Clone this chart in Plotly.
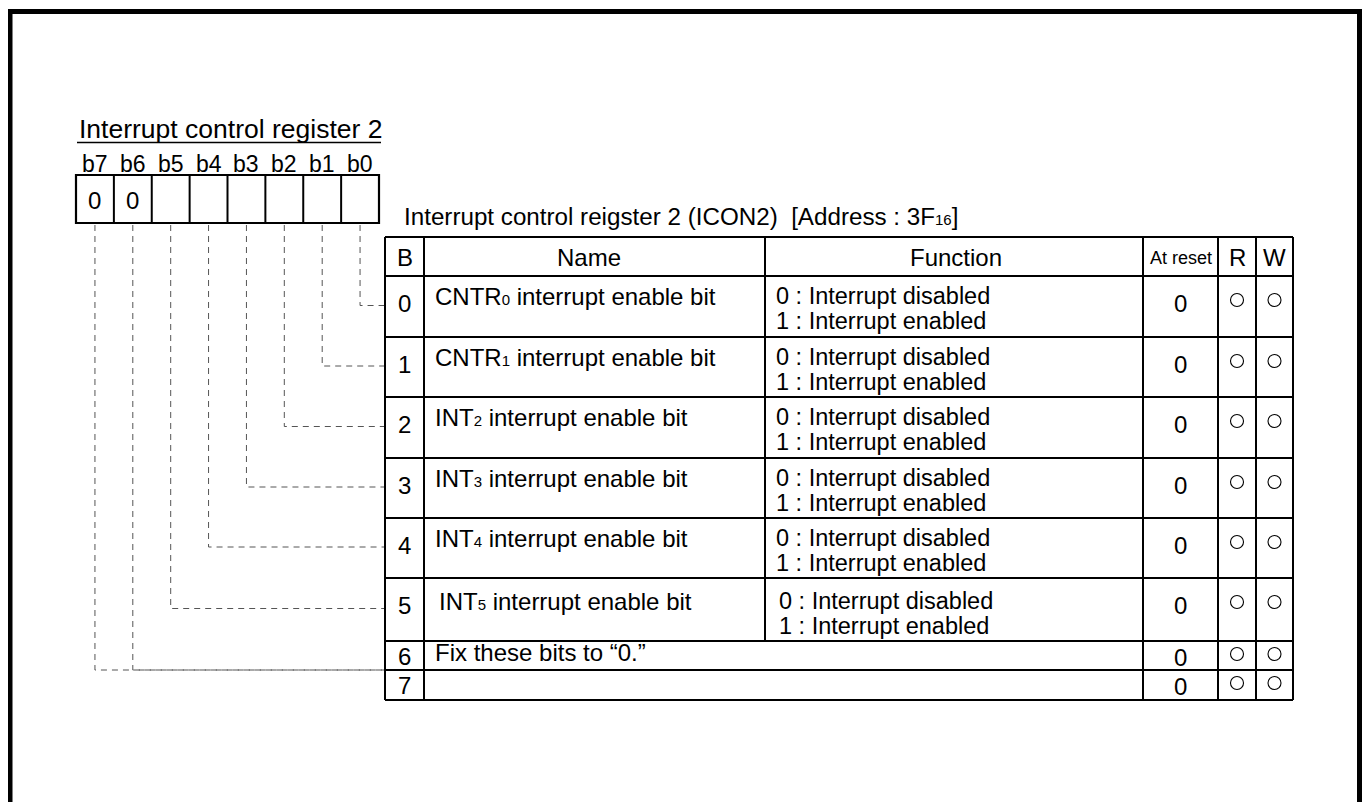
import plotly.graph_objects as go

# ---------------- data ----------------
reg_title = "Interrupt control register 2"
bit_labels = ["b7", "b6", "b5", "b4", "b3", "b2", "b1", "b0"]
bit_fixed = ["0", "0", "", "", "", "", "", ""]
table_caption = "Interrupt control reigster 2 (ICON2)  [Address : 3F"
caption_sub = "16"
caption_end = "]"
headers = ["B", "Name", "Function", "At reset", "R", "W"]
bits = ["0", "1", "2", "3", "4", "5", "6", "7"]
name_main = ["CNTR", "CNTR", "INT", "INT", "INT", "INT"]
name_sub = ["0", "1", "2", "3", "4", "5"]
name_tail = " interrupt enable bit"
fix_text = "Fix these bits to \u201c0.\u201d"
func_line0 = "0 : Interrupt disabled"
func_line1 = "1 : Interrupt enabled"
reset_vals = ["0", "0", "0", "0", "0", "0", "0", "0"]
read_ok = [True, True, True, True, True, True, True, True]
write_ok = [True, True, True, True, True, True, True, True]

# ---------------- layout constants ----------------
OFF = 8  # page body margin compensation
FIG_W, FIG_H = 1370, 802
FONT = "Liberation Sans, Arial, Helvetica, sans-serif"
reg_left, reg_right, reg_top, reg_bot = 76, 379, 175, 223
cell_w = (reg_right - reg_left) / 8
col_x = [385, 424, 765, 1143, 1218, 1256, 1293]
hdr_top = 237
row_y = [276, 337, 397, 458, 518, 578, 641, 670, 700]

shapes = []
annotations = []


def line(x0, y0, x1, y1, w=2, color="black", dash=None):
    d = dict(type="line", x0=x0, y0=y0, x1=x1, y1=y1, xref="x", yref="y",
             line=dict(color=color, width=w))
    if dash:
        d["line"]["dash"] = dash
    shapes.append(d)


def text(x, y, s, size=24, xanchor="center", yanchor="middle"):
    annotations.append(dict(x=x, y=y, xref="x", yref="y", text=s, showarrow=False,
                            xanchor=xanchor, yanchor=yanchor,
                            font=dict(family=FONT, size=size, color="black")))


# outer frame
shapes.append(dict(type="path", path="M10,830 L10,11.5 L1359.5,11.5 L1359.5,830",
                   xref="x", yref="y", line=dict(color="black", width=5)))

# register title + underline
text(77, 129, reg_title, size=26.5, xanchor="left")
line(77, 142.5, 381, 142.5, w=1.5)

# register cells
shapes.append(dict(type="rect", x0=reg_left, y0=reg_top, x1=reg_right, y1=reg_bot,
                   xref="x", yref="y", line=dict(color="black", width=2.2)))
for i in range(1, 8):
    x = reg_left + i * cell_w
    line(x, reg_top, x, reg_bot, w=2)
for i, (lab, fx) in enumerate(zip(bit_labels, bit_fixed)):
    cx = reg_left + (i + 0.5) * cell_w
    text(cx, 164, lab, size=23)
    if fx:
        text(cx, 200, fx, size=24)

# table caption
text(402, 216, table_caption + "<span style='font-size:15px'>" + caption_sub + "</span>" + caption_end,
     size=24.2, xanchor="left")

# table grid
tbl_left, tbl_right = col_x[0], col_x[-1]
tbl_bot = row_y[-1]
line(tbl_left, hdr_top, tbl_right, hdr_top)
line(tbl_left, tbl_bot, tbl_right, tbl_bot)
for yy in row_y[:-1]:
    line(tbl_left, yy, tbl_right, yy)
# row 6/7 divider only in B and reset/R/W columns
line(col_x[0], row_y[7], col_x[1], row_y[7])
line(col_x[3], row_y[7], col_x[6], row_y[7])
for j, xx in enumerate(col_x):
    if j == 2:
        line(xx, hdr_top, xx, row_y[6])
    else:
        line(xx, hdr_top, xx, tbl_bot)

# headers
hdr_mid = (hdr_top + row_y[0]) / 2 + 1
hdr_sizes = [24, 24, 24, 18, 24, 24]
hdr_shift = [0, -6, 2, 0, 0, 0]
for j, (hname, hs) in enumerate(zip(headers, hdr_sizes)):
    text((col_x[j] + col_x[j + 1]) / 2 + hdr_shift[j], hdr_mid, hname, size=hs)

# rows
b_cx = (col_x[0] + col_x[1]) / 2
res_cx = (col_x[3] + col_x[4]) / 2
r_cx = (col_x[4] + col_x[5]) / 2
w_cx = (col_x[5] + col_x[6]) / 2
circ_x, circ_y = [], []
for i, b in enumerate(bits):
    top = row_y[i]
    if i < 6:
        n_ind = 4 if i == 5 else 0
        f_ind = 3 if i == 5 else 0
        dy = 3 if i == 5 else 0
        text(b_cx, top + 27, b, size=24)
        text(433 + n_ind, top + 20 + dy,
             name_main[i] + "<span style='font-size:15px'>" + name_sub[i] + "</span>" + name_tail,
             size=24, xanchor="left")
        text(774 + f_ind, top + 20 + dy, func_line0, size=23.5, xanchor="left")
        text(774 + f_ind, top + 45 + dy, func_line1, size=23.5, xanchor="left")
        text(res_cx, top + 27, reset_vals[i], size=24)
        cy = top + 24
    else:
        text(b_cx, top + 15, b, size=24)
        text(res_cx, top + 16, reset_vals[i], size=24)
        cy = top + 13
    if read_ok[i]:
        circ_x.append(r_cx)
        circ_y.append(cy)
    if write_ok[i]:
        circ_x.append(w_cx)
        circ_y.append(cy)
text(433, row_y[6] + 11, fix_text, size=24, xanchor="left")

# dashed leader lines from register bits to table rows
traces = []
for i in range(8):
    cell = 7 - i
    cx = reg_left + (cell + 0.5) * cell_w
    if i < 6:
        ty = (row_y[i] + row_y[i + 1]) / 2 - 1
    else:
        ty = row_y[7]
    traces.append(go.Scatter(x=[cx, cx, tbl_left], y=[reg_bot + 2, ty, ty], mode="lines",
                             line=dict(color="#555555", width=1, dash="6px,5px"),
                             hoverinfo="skip", showlegend=False))

traces.append(go.Scatter(x=circ_x, y=circ_y, mode="markers",
                         marker=dict(symbol="circle-open", size=13, color="black",
                                     line=dict(width=1.1)),
                         hoverinfo="skip", showlegend=False))

fig = go.Figure(traces)
fig.update_layout(
    width=FIG_W, height=FIG_H, margin=dict(l=0, r=0, t=0, b=0),
    paper_bgcolor="white", plot_bgcolor="white",
    xaxis=dict(range=[OFF, FIG_W + OFF], visible=False, fixedrange=True),
    yaxis=dict(range=[FIG_H + OFF, OFF], visible=False, fixedrange=True),
    shapes=shapes, annotations=annotations,
)
fig.write_html("out.html", config={"displayModeBar": False})
